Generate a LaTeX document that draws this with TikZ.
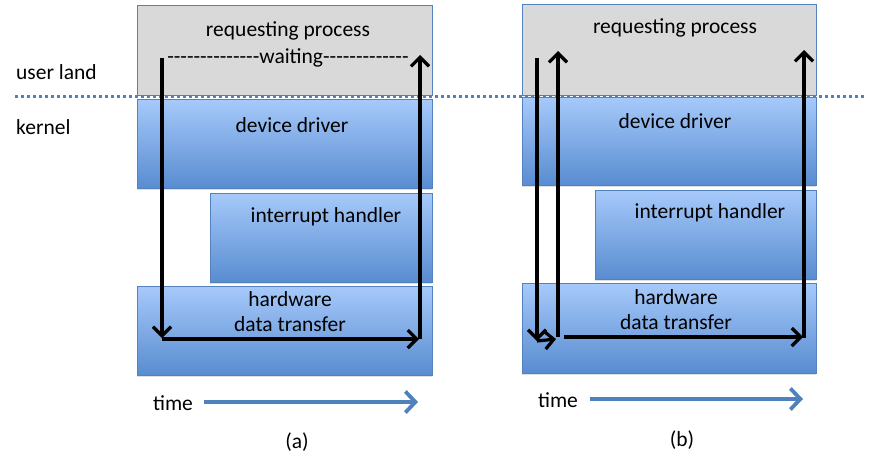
\documentclass[tikz,border=0pt]{standalone}
\usepackage{fontspec}
\setmainfont{Carlito}
\usetikzlibrary{arrows.meta,shadows}
\definecolor{gfill}{RGB}{217,217,217}
\definecolor{bedge}{RGB}{84,130,190}
\definecolor{btop}{RGB}{166,201,250}
\definecolor{bbot}{RGB}{88,140,208}
\definecolor{tarrow}{RGB}{79,129,189}
\newcommand\hy{\mbox{-}}
\begin{document}
\begin{tikzpicture}[x=1pt,y=-1pt,
  every node/.style={font=\fontsize{21.5}{25}\selectfont, inner sep=0pt},
  procbox/.style={draw=bedge, line width=0.9pt, fill=gfill, anchor=north west},
  kbox/.style={draw=bedge, line width=0.9pt, top color=btop, bottom color=bbot, anchor=north west,
    drop shadow={opacity=0.25, shadow xshift=0pt, shadow yshift=-2pt}},
  flow/.style={line width=3.2pt, -{Straight Barb[length=9pt,width=18pt]}},
  timearrow/.style={line width=3.8pt, tarrow, -{Straight Barb[length=10pt,width=21pt]}},
  sepline/.style={line width=3pt, tarrow, dash pattern=on 3pt off 3pt}
]
\useasboundingbox (0,0) rectangle (869,456);

% ---------- panel (a) ----------
\node[procbox, minimum width=295, minimum height=90] (reqA) at (137,5) {};
\node[kbox, minimum width=295, minimum height=89] (ddA) at (137,99) {};
\node[kbox, minimum width=222, minimum height=89] (ihA) at (210,193) {};
\node[kbox, minimum width=295, minimum height=89] (hwA) at (137,286) {};

% ---------- panel (b) ----------
\node[procbox, minimum width=294, minimum height=91] (reqB) at (522,4) {};
\node[kbox, minimum width=294, minimum height=88] (ddB) at (522,97) {};
\node[kbox, minimum width=221, minimum height=89] (ihB) at (595,190) {};
\node[kbox, minimum width=294, minimum height=90] (hwB) at (522,283) {};

% separator
\coordinate (sepL) at (15,96);
\coordinate (sepR) at (866,96);
\draw[sepline] (sepL) -- (sepR);

% side labels
\node[anchor=west] (uland) at (16,72) {user land};
\node[anchor=west] (kern) at (16,127) {kernel};

% labels (a)
\node (reqAl) at (288,31) {requesting process};
\node (waitA) at (288,58) {\hy\hy\hy\hy\hy\hy\hy\hy\hy\hy\hy\hy\hy\hy waiting\hy\hy\hy\hy\hy\hy\hy\hy\hy\hy\hy\hy\hy};
\node (ddAl) at (292,125) {device driver};
\node (ihAl) at (326,217) {interrupt handler};
\node[align=center] (hwAl) at (290,312) {hardware\\data transfer};

% labels (b)
\node (reqBl) at (675,28) {requesting process};
\node (ddBl) at (675,121) {device driver};
\node (ihBl) at (710,213) {interrupt handler};
\node[align=center] (hwBl) at (676,310) {hardware\\data transfer};

% flow (a)
\coordinate (a1) at (162,58);
\coordinate (a2) at (162,338);
\coordinate (a3) at (162,339);
\coordinate (a4) at (419,339);
\coordinate (a5) at (420,339);
\coordinate (a6) at (420,55);
\draw[flow] (a1) -- (a2);
\draw[flow] (a3) -- (a4);
\draw[flow] (a5) -- (a6);

% flow (b)
\coordinate (b1) at (537,58);
\coordinate (b2) at (537,341);
\coordinate (b3) at (537,341);
\coordinate (b4) at (556,339);
\coordinate (b5) at (558,337);
\coordinate (b6) at (558,51);
\coordinate (b7) at (564,337);
\coordinate (b8) at (803,337);
\coordinate (b9) at (804,338);
\coordinate (b10) at (804,50);
\draw[flow] (b1) -- (b2);
\draw[flow] (b3) -- (b4);
\draw[flow] (b5) -- (b6);
\draw[flow] (b7) -- (b8);
\draw[flow] (b9) -- (b10);

% time axes
\node (timeA) at (173,403) {time};
\coordinate (tA1) at (204,402);
\coordinate (tA2) at (418,402);
\draw[timearrow] (tA1) -- (tA2);
\node (timeB) at (558,400) {time};
\coordinate (tB1) at (590,399);
\coordinate (tB2) at (803,399);
\draw[timearrow] (tB1) -- (tB2);

% captions
\node (capA) at (297,442) {(a)};
\node (capB) at (682,440) {(b)};
\end{tikzpicture}
\end{document}
